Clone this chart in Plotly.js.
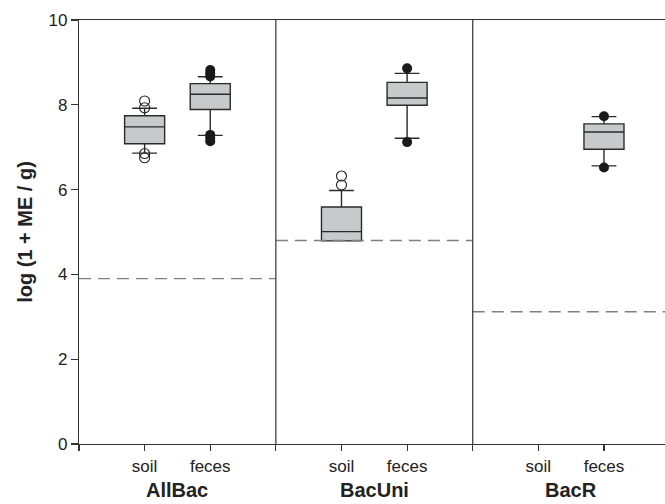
<!DOCTYPE html>
<html>
<head>
<meta charset="utf-8">
<script src="https://cdn.plot.ly/plotly-3.0.1.min.js"></script>
<style>html,body{margin:0;padding:0;background:#fff;}#chart{width:665px;height:504px;}</style>
</head>
<body>
<div id="chart"></div>
<script>
// Groups and sample types
var groups = ['AllBac', 'BacUni', 'BacR'];
var groupCenters = [1.5, 4.5, 7.5];
var groupBounds = [0, 3, 6, 9];
var tickVals = [0, 1, 2, 3, 4, 5, 6, 7, 8, 9];
var tickText = ['', 'soil', 'feces', '', 'soil', 'feces', '', 'soil', 'feces', ''];

// Detection limits (dashed lines) per group
var detectionLimits = [3.9, 4.8, 3.12];

// Box statistics (soil AllBac, feces AllBac, soil BacUni, feces BacUni, feces BacR)
var boxNames = ['AllBac soil', 'AllBac feces', 'BacUni soil', 'BacUni feces', 'BacR feces'];
var boxX = [1, 2, 4, 5, 8];
var boxLower = [6.86, 7.28, 4.79, 7.21, 6.56];
var boxQ1 = [7.08, 7.89, 4.79, 7.99, 6.95];
var boxMedian = [7.48, 8.25, 5.01, 8.16, 7.36];
var boxQ3 = [7.74, 8.50, 5.59, 8.53, 7.55];
var boxUpper = [7.92, 8.66, 5.98, 8.74, 7.72];

// Outliers: soil (open circles), feces (filled circles)
var soilOutX = [1, 1, 1, 1, 4, 4];
var soilOutY = [8.09, 7.93, 6.85, 6.75, 6.11, 6.32];
var fecesOutX = [2, 2, 2, 2, 2, 2, 5, 5, 8, 8];
var fecesOutY = [8.82, 8.74, 8.67, 7.29, 7.22, 7.14, 8.86, 7.12, 7.73, 6.52];

var traces = [];
for (var i = 0; i < boxX.length; i++) {
  traces.push({
    type: 'box',
    name: boxNames[i],
    x: [boxX[i]],
    q1: [boxQ1[i]], median: [boxMedian[i]], q3: [boxQ3[i]],
    lowerfence: [boxLower[i]], upperfence: [boxUpper[i]],
    width: 0.61,
    whiskerwidth: 0.62,
    fillcolor: '#c8c9cb',
    line: {color: '#2b2b2b', width: 1.4},
    boxpoints: false,
    hoverinfo: 'skip',
    showlegend: false
  });
}
for (var g = 0; g < groups.length; g++) {
  traces.push({
    type: 'scatter', mode: 'lines',
    x: [groupBounds[g], groupBounds[g + 1]],
    y: [detectionLimits[g], detectionLimits[g]],
    line: {color: '#808080', width: 1.4, dash: '12px,7px'},
    hoverinfo: 'skip', showlegend: false
  });
}
traces.push({
  type: 'scatter', mode: 'markers', x: soilOutX, y: soilOutY,
  marker: {symbol: 'circle-open', size: 10, color: '#222', line: {width: 1.1, color: '#222'}},
  hoverinfo: 'skip', showlegend: false
});
traces.push({
  type: 'scatter', mode: 'markers', x: fecesOutX, y: fecesOutY,
  marker: {symbol: 'circle', size: 10, color: '#1a1a1a'},
  hoverinfo: 'skip', showlegend: false
});

var shapes = [];
for (var s = 1; s < groupBounds.length - 1; s++) {
  shapes.push({type: 'line', xref: 'x', yref: 'paper', x0: groupBounds[s], x1: groupBounds[s], y0: 0, y1: 1,
    line: {color: '#333', width: 1.2}});
}

var annotations = [];
for (var a = 0; a < groups.length; a++) {
  annotations.push({
    text: '<b>' + groups[a] + '</b>', x: groupCenters[a], xref: 'x', y: -0.108, yref: 'paper',
    xanchor: 'center', yanchor: 'middle', showarrow: false,
    font: {family: 'Liberation Sans, Arial, sans-serif', size: 20, color: '#222'}
  });
}

var layout = {
  width: 665, height: 504,
  margin: {l: 79, r: 0, t: 20, b: 60},
  paper_bgcolor: '#fff', plot_bgcolor: '#fff',
  showlegend: false,
  font: {family: 'Liberation Sans, Arial, sans-serif', size: 16, color: '#222'},
  xaxis: {
    range: [0, 8.93], tickvals: tickVals, ticktext: tickText,
    showgrid: false, zeroline: false, showline: true, mirror: true,
    linecolor: '#333', linewidth: 1.2,
    ticks: 'outside', ticklen: 6, tickcolor: '#333', tickwidth: 1.2,
    tickfont: {size: 17, color: '#222'}
  },
  yaxis: {
    range: [0, 10], tickvals: [0, 2, 4, 6, 8, 10],
    showgrid: false, zeroline: false, showline: true,
    linecolor: '#333', linewidth: 1.2,
    ticks: 'outside', ticklen: 7, tickcolor: '#333', tickwidth: 1.2,
    tickfont: {size: 17, color: '#222'},
    title: {text: '<b>log (1 + ME / g)</b>', font: {size: 20, color: '#222'}, standoff: 10}
  },
  shapes: shapes,
  annotations: annotations
};

Plotly.newPlot('chart', traces, layout, {displayModeBar: false, staticPlot: true});
</script>
</body>
</html>
